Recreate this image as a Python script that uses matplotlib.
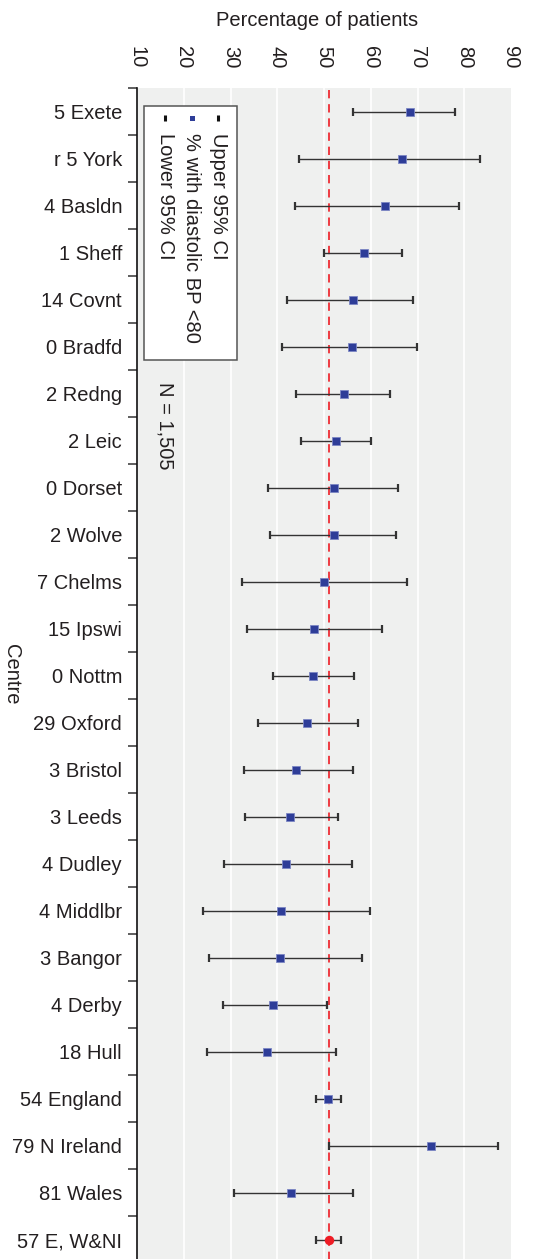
import numpy as np
import matplotlib
matplotlib.use("Agg")
import matplotlib.pyplot as plt
from matplotlib.patches import Rectangle

plt.rcParams['font.family'] = ['Liberation Sans', 'DejaVu Sans']

# data
centres = ['5 Exete', 'r 5 York', '4 Basldn', '1 Sheff', '14 Covnt', '0 Bradfd',
           '2 Redng', '2 Leic', '0 Dorset', '2 Wolve', '7 Chelms', '15 Ipswi',
           '0 Nottm', '29 Oxford', '3 Bristol', '3 Leeds', '4 Dudley', '4 Middlbr',
           '3 Bangor', '4 Derby', '18 Hull', '54 England', '79 N Ireland',
           '81 Wales', '57 E, W&NI']
pct = [68.3, 66.7, 63.0, 58.6, 56.1, 55.9, 54.3, 52.6, 52.1, 52.1, 50.0, 47.8,
       47.6, 46.4, 44.1, 42.8, 41.8, 40.8, 40.6, 39.0, 37.9, 50.9, 72.9, 42.9, 51.0]
lower = [56.3, 44.7, 43.7, 50.1, 42.1, 41.0, 44.1, 45.1, 38.1, 38.4, 32.4, 33.6,
         39.1, 35.9, 32.9, 33.2, 28.7, 24.2, 25.3, 28.5, 24.9, 48.3, 51.1, 30.7, 48.3]
upper = [78.1, 83.3, 78.9, 66.6, 69.1, 69.9, 64.1, 60.0, 65.8, 65.4, 67.7, 62.4,
         56.4, 57.2, 56.1, 52.9, 55.9, 59.8, 58.1, 50.6, 52.6, 53.6, 87.3, 56.1, 53.6]
overall = 51.0
xticks = [10, 20, 30, 40, 50, 60, 70, 80, 90]

txt = '#231f20'
W, H = 534, 1259
fig = plt.figure(figsize=(W / 100, H / 100), dpi=100)
ax = fig.add_axes([137 / W, -4 / H, 374 / W, 1175 / H])
ax.set_facecolor('#eff0ef')

pct = np.array(pct)
lower = np.array(lower)
upper = np.array(upper)
y = np.arange(len(centres))

# grid
for v in xticks[1:-1]:
    ax.axvline(v, color='white', lw=1.2, zorder=0)

ax.axvline(overall, color='#ee1c25', lw=1.2, ls=(0, (5, 3.5)), zorder=1)

n = len(centres)
ax.errorbar(pct[:n - 1], y[:n - 1], xerr=[pct[:n - 1] - lower[:n - 1], upper[:n - 1] - pct[:n - 1]],
            fmt='none', ecolor='#333333', elinewidth=1.0, capsize=2.6, capthick=1.6, zorder=2)
ax.errorbar(pct[n - 1:], y[n - 1:], xerr=[pct[n - 1:] - lower[n - 1:], upper[n - 1:] - pct[n - 1:]],
            fmt='none', ecolor='#333333', elinewidth=1.0, capsize=2.6, capthick=1.6, zorder=2)
ax.plot(pct[:n - 1], y[:n - 1], 's', color='#2e3d98', ms=6, mec='#7c86c4', mew=0.6, zorder=3)
ax.plot(pct[n - 1:], y[n - 1:], 'o', color='#ee1c25', ms=6.8, mew=0, zorder=3)

ax.set_xlim(10, 90)
ax.set_ylim(n - 0.5, -0.5)
ax.xaxis.tick_top()
ax.set_xticks(xticks)
ax.tick_params(axis='x', length=0, pad=14, labelsize=14.5, labelrotation=-90, labelcolor=txt)

ax.set_yticks(np.arange(n + 1) - 0.5)
ax.set_yticklabels([])
ax.set_yticks(y, minor=True)
ax.set_yticklabels(centres, minor=True)
ax.tick_params(axis='y', which='major', length=6.5, width=1.1, color='#333333')
ax.tick_params(axis='y', which='minor', length=0, pad=10.8, labelsize=14.5, labelcolor=txt)

for s in ['top', 'right', 'bottom']:
    ax.spines[s].set_visible(False)
ax.spines['left'].set_linewidth(1.2)
ax.spines['left'].set_color('#111111')

# legend, drawn rotated like the reference
ax.add_patch(Rectangle((0.0187, 0.7685), 0.2487, 0.2162, transform=ax.transAxes,
                       facecolor='white', edgecolor='#555555', lw=1.1, zorder=4))
leg_x = [0.2166, 0.147, 0.075]
leg_lab = ['Upper 95% CI', '% with diastolic BP <80', 'Lower 95% CI']
leg_mk = [('|', '#111111', 5, 2.2), ('s', '#2e3d98', 3.6, 0), ('|', '#111111', 5, 2.2)]
for lx, lab, (m, c, ms, mw) in zip(leg_x, leg_lab, leg_mk):
    ax.plot([lx], [0.9745], m, color=c, ms=ms, mew=mw, transform=ax.transAxes, zorder=5)
    ax.text(lx, 0.9617, lab, rotation=-90, ha='center', va='top', fontsize=14.5,
            color=txt, transform=ax.transAxes, zorder=5)

ax.text(0.075, 0.7123, 'N = 1,505', rotation=-90, ha='center', va='center',
        fontsize=14.5, color=txt, transform=ax.transAxes)

fig.text(317 / W, 1 - 20 / H, 'Percentage of patients', ha='center', va='center',
         fontsize=14.5, color=txt)
fig.text(11 / W, 1 - 674 / H, 'Centre', rotation=-90, ha='center', va='center',
         fontsize=14.5, color=txt)

fig.savefig('out.png', dpi=100, facecolor='white')
